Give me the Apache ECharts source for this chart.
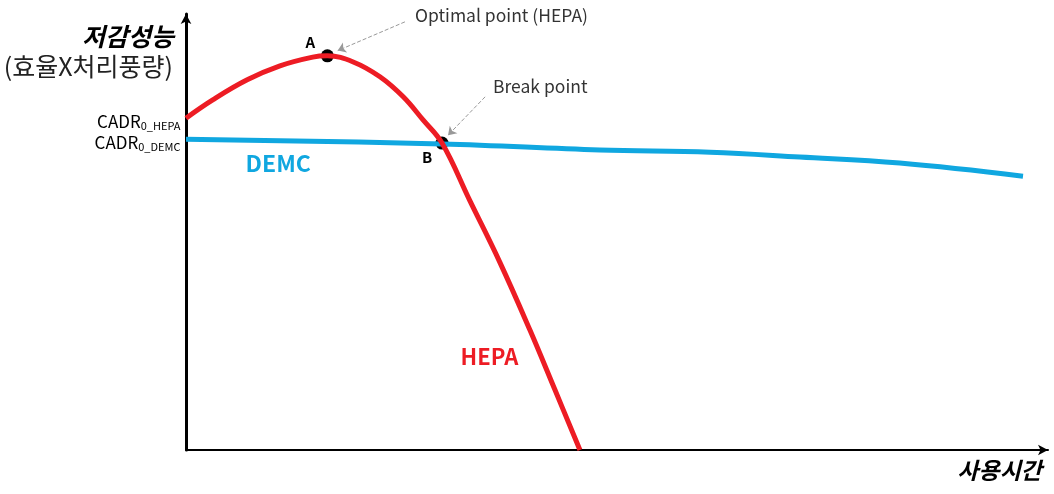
<!DOCTYPE html>
<html>
<head>
<meta charset="utf-8">
<script src="https://cdn.jsdelivr.net/npm/echarts@6/dist/echarts.min.js"></script>
<style>
  html, body { margin: 0; padding: 0; background: #fff; }
  #chart { width: 1054px; height: 494px; }
</style>
</head>
<body>
<div id="chart"></div>
<script>
// 사용시간 (x) / 저감성능 (y), 임의 단위 0~100
const hepaData = [
  [0, 76.1], [3.1, 80.3], [7.1, 84.9], [10.9, 88.1], [14.7, 90.1], [16.4, 90.4],
  [19.4, 89.0], [22.5, 85.6], [25.2, 81.0], [27.5, 75.7], [29.7, 70.4],
  [32.9, 57.3], [36.4, 43.1], [39.9, 27.5], [42.8, 13.8], [45.7, 0]
]
const demcData = [
  [0, 71.3], [29.7, 70.2], [48.0, 68.8], [60.8, 68.3],
  [71.2, 67.2], [82.8, 65.8], [97.1, 62.8]
]
const pointA = [16.4, 90.4]
const pointB = [29.7, 70.4]
const arrowA = [[25.4, 98.2], [17.6, 91.6]]
const arrowB = [[34.7, 81.0], [30.4, 72.2]]

const RED = '#ed1c24'
const BLUE = '#10a7e0'
const FONT = '"Noto Sans CJK KR", "Noto Sans", sans-serif'

function textMark(coord, text, color, size) {
  return {
    coord: coord, symbol: 'circle', symbolSize: 1,
    itemStyle: { color: 'rgba(0,0,0,0)' },
    label: { show: true, position: 'inside', formatter: text, color: color, fontSize: size, fontWeight: 'bold', fontFamily: FONT }
  }
}
function cadrMark(coord, sub) {
  return {
    coord: coord, symbol: 'circle', symbolSize: 1,
    itemStyle: { color: 'rgba(0,0,0,0)' },
    label: {
      show: true, position: 'left', distance: 5, offset: [0, 3],
      formatter: 'CADR{s|' + sub + '}', color: '#000', fontSize: 17, fontFamily: FONT,
      rich: { s: { fontSize: 11, padding: [9, 0, 0, 0], fontFamily: FONT, color: '#000' } }
    }
  }
}

const myChart = echarts.init(document.getElementById('chart'))
myChart.setOption({
  animation: false,
  backgroundColor: '#fff',
  grid: { left: 186, right: 6, top: 14, bottom: 44 },
  xAxis: {
    type: 'value', min: 0, max: 100,
    axisLine: { show: true, symbol: ['none', 'arrow'], symbolSize: [8, 10], lineStyle: { color: '#000', width: 2 } },
    axisTick: { show: false }, axisLabel: { show: false }, splitLine: { show: false }
  },
  yAxis: {
    type: 'value', min: 0, max: 100,
    axisLine: { show: true, symbol: ['none', 'arrow'], symbolSize: [8, 10], lineStyle: { color: '#000', width: 3 } },
    axisTick: { show: false }, axisLabel: { show: false }, splitLine: { show: false }
  },
  graphic: [
    { type: 'text', right: 1054 - 174, top: 24, style: { text: '저감성능', font: 'italic bold 25px ' + FONT, fill: '#000' } },
    { type: 'text', right: 1054 - 173, top: 54, style: { text: '(효율X처리풍량)', font: '25px ' + FONT, fill: '#222' } },
    { type: 'text', right: 12, top: 459, style: { text: '사용시간', font: 'italic bold 23px ' + FONT, fill: '#000' } },
    { type: 'text', left: 415, top: 7, style: { text: 'Optimal point (HEPA)', font: '17.5px ' + FONT, fill: '#333' } },
    { type: 'text', left: 493, top: 78, style: { text: 'Break point', font: '17.5px ' + FONT, fill: '#333' } }
  ],
  series: [
    {
      name: 'DEMC', type: 'line', smooth: 0.4, symbol: 'none',
      lineStyle: { color: BLUE, width: 5 },
      data: demcData,
      markPoint: {
        data: [cadrMark(demcData[0], '0_DEMC'), textMark([10.7, 65.8], 'DEMC', BLUE, 23)]
      }
    },
    {
      name: 'HEPA', type: 'line', smooth: 0.4, symbol: 'none',
      lineStyle: { color: RED, width: 5 },
      data: hepaData,
      markPoint: {
        data: [cadrMark(hepaData[0], '0_HEPA'), textMark([35.2, 21.3], 'HEPA', RED, 22)]
      }
    },
    {
      name: 'points', type: 'scatter', symbolSize: 13,
      itemStyle: { color: '#000', opacity: 1 },
      data: [
        { value: pointA, label: { show: true, formatter: 'A', position: 'top', offset: [-17, 5], fontWeight: 'bold', fontSize: 15, color: '#000', fontFamily: FONT } },
        { value: pointB, label: { show: true, formatter: 'B', position: 'bottom', offset: [-15, -5], fontWeight: 'bold', fontSize: 15, color: '#000', fontFamily: FONT } }
      ],
      markLine: {
        silent: true,
        symbol: ['none', 'arrow'],
        symbolSize: 8,
        label: { show: false },
        lineStyle: { color: '#999', type: 'dashed', width: 1 },
        data: [
          [{ coord: arrowA[0] }, { coord: arrowA[1] }],
          [{ coord: arrowB[0] }, { coord: arrowB[1] }]
        ]
      }
    }
  ]
})
</script>
</body>
</html>
